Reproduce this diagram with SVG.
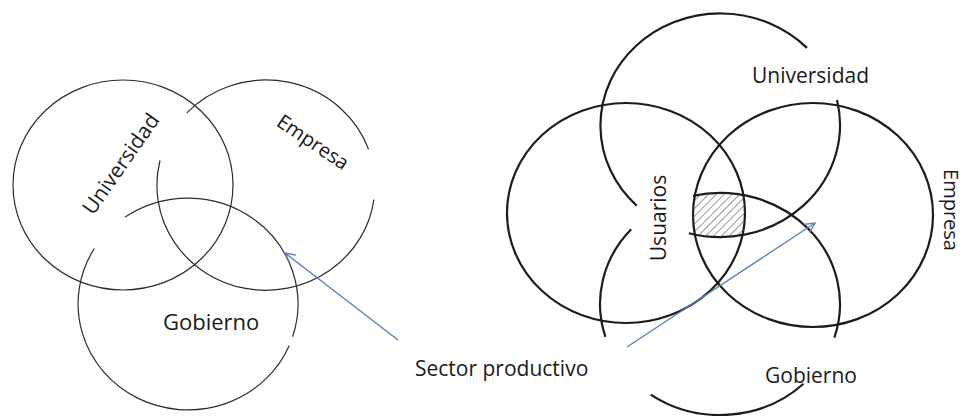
<svg xmlns="http://www.w3.org/2000/svg" width="968" height="416" viewBox="0 0 968 416">
<defs>
<style>
.c1{fill:none;stroke:#2b2b2b;stroke-width:1.2}
.c2{fill:none;stroke:#1c1c1c;stroke-width:2.2}
.t{font-family:"Open Sans","Noto Sans","DejaVu Sans",sans-serif;fill:#1a1a1a}
.ar{fill:none;stroke:#5a7fb0;stroke-width:1.3}
</style>
<marker id="ah" viewBox="0 0 12 12" refX="11" refY="6" markerWidth="12" markerHeight="12" markerUnits="userSpaceOnUse" orient="auto">
<path d="M1,1 L11,6 L1,11" fill="none" stroke="#5a7fb0" stroke-width="1.3"/>
</marker>
<pattern id="hatch" patternUnits="userSpaceOnUse" width="5.5" height="5.5" patternTransform="rotate(45)">
<line x1="0" y1="0" x2="0" y2="5.5" stroke="#555" stroke-width="1.2"/>
</pattern>
<clipPath id="cA"><ellipse cx="626" cy="213" rx="119" ry="110"/></clipPath>
<clipPath id="cB"><ellipse cx="813" cy="215" rx="120" ry="112"/></clipPath>
<clipPath id="cC"><ellipse cx="720" cy="125" rx="120" ry="112"/></clipPath>
<clipPath id="cD"><ellipse cx="720" cy="304" rx="120" ry="111"/></clipPath>
</defs>

<!-- Left diagram -->
<g id="univ-left">
<ellipse class="c1" cx="123" cy="185" rx="110" ry="105"/>
<text class="t" font-size="21" text-anchor="middle" transform="translate(121,164) rotate(-55)" y="7">Universidad</text>
</g>
<g id="empresa-left">
<path class="c1" d="M373.9,199.6 A109,105 0 1 1 160.0,160.5 M186.8,112.9 A109,105 0 0 1 368.6,149.4"/>
<text class="t" font-size="20" text-anchor="middle" transform="translate(313,142) rotate(34)" y="7">Empresa</text>
</g>
<g id="gobierno-left">
<path class="c1" d="M289.3,345.4 A110,106 0 1 1 94.3,248.5 M125.1,217.1 A110,106 0 0 1 292.6,336.8"/>
<text class="t" font-size="22" x="163" y="330">Gobierno</text>
</g>
<g id="sector">
<text class="t" font-size="21" x="415" y="376">Sector productivo</text>
</g>

<!-- Right diagram -->
<g id="usuarios">
<ellipse class="c2" cx="626" cy="213" rx="119" ry="110"/>
<text class="t" font-size="21" text-anchor="middle" transform="translate(659,218) rotate(-90)" y="7">Usuarios</text>
</g>
<g id="empresa-right">
<ellipse class="c2" cx="813" cy="215" rx="120" ry="112"/>
<text class="t" font-size="20" text-anchor="middle" transform="translate(951,210) rotate(90)" y="7">Empresa</text>
</g>
<g id="univ-right">
<path class="c2" d="M837.0,100.0 A120,112 0 0 1 688.9,233.2 M636.6,205.6 A120,112 0 1 1 807.0,47.9"/>
<text class="t" font-size="21" x="752" y="83">Universidad</text>
</g>
<g id="gobierno-right">
<path class="c2" d="M693.0,195.8 A120,111 0 0 1 834.3,337.7 M803.5,383.7 A120,111 0 0 1 650.7,394.6 M605.4,336.8 A120,111 0 0 1 631.2,229.3"/>
<text class="t" font-size="21" x="765" y="383">Gobierno</text>
</g>
<g id="interseccion">
<g clip-path="url(#cA)"><g clip-path="url(#cB)"><g clip-path="url(#cC)"><g clip-path="url(#cD)">
<rect x="680" y="180" width="80" height="70" fill="url(#hatch)"/>
</g></g></g></g>
</g>

<g id="connectors">
<line class="ar" x1="398" y1="340" x2="285" y2="253" marker-end="url(#ah)"/>
<line class="ar" x1="627" y1="347" x2="815" y2="223" marker-end="url(#ah)"/>
</g>
</svg>
